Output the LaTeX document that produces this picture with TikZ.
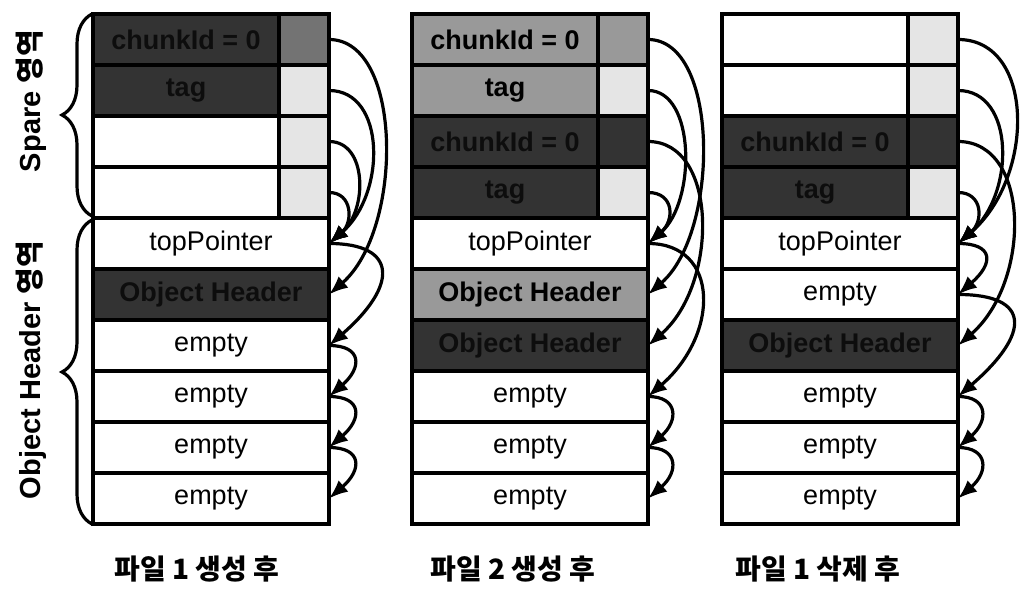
\documentclass[tikz,border=0pt]{standalone}
\usepackage{fontspec}
\setmainfont{Liberation Sans}
\newfontfamily\kr{Noto Sans CJK KR}
\usetikzlibrary{arrows.meta,decorations.pathreplacing,calc}

\definecolor{darkfill}{gray}{0.2}
\definecolor{darktext}{gray}{0.05}
\definecolor{midfill}{gray}{0.6}
\definecolor{subfill}{gray}{0.45}
\definecolor{lightfill}{gray}{0.9}

\newcommand\cellfont{\fontsize{27}{30}\selectfont}
% curved pointer from the right edge of one cell to the right edge of another
\newcommand\link[3]{\draw[arr] (#1.east) .. controls +({1.33*#3},0) and +({1.33*#3},{-1.15*#3}) .. (#2.east);}

\begin{document}
\begin{tikzpicture}[x=1pt,y=-1pt,
  cell/.style={draw, line width=3.4pt, minimum width=236pt, minimum height=51pt,
    inner sep=0pt, outer sep=0pt, anchor=north west, font=\cellfont},
  shaded/.style={font=\cellfont\bfseries},
  subcell/.style={draw, line width=3.4pt, minimum width=50pt, minimum height=51pt,
    inner sep=0pt, outer sep=0pt, anchor=north east},
  lbl/.style={font=\cellfont\bfseries, inner sep=0pt},
  dk/.style={text=darktext},
  arr/.style={line width=3.2pt, -{Latex[length=19pt,width=15pt]}},
  brc/.style={decorate, decoration={brace, amplitude=30pt}, line width=3.2pt},
  side/.style={font=\fontsize{29}{32}\selectfont\bfseries, inner sep=0pt, rotate=90},
  captext/.style={font=\kr\bfseries\fontsize{28}{32}\selectfont, inner sep=0pt}]
\useasboundingbox (0,0) rectangle (1022,593);

% ---------- column 1 ----------
\node[cell, fill=darkfill] (a1) at (93,14) {};
\node[subcell, fill=subfill] (a1s) at (a1.north east) {};
\node[lbl, dk] (a1t) at ($(a1.west)!0.5!(a1s.west)$) {chunkId = 0};
\node[cell, fill=darkfill] (a2) at (93,65) {};
\node[subcell, fill=lightfill] (a2s) at (a2.north east) {};
\node[lbl, dk] (a2t) at ($(a2.west)!0.5!(a2s.west)$) {tag};
\node[cell] (a3) at (93,116) {};
\node[subcell, fill=lightfill] (a3s) at (a3.north east) {};
\node[cell] (a4) at (93,167) {};
\node[subcell, fill=lightfill] (a4s) at (a4.north east) {};
\node[cell] (a5) at (93,218) {topPointer};
\node[cell, shaded, dk, fill=darkfill] (a6) at (93,269) {Object Header};
\node[cell] (a7) at (93,320) {empty};
\node[cell] (a8) at (93,371) {empty};
\node[cell] (a9) at (93,422) {empty};
\node[cell] (a10) at (93,473) {empty};

\link{a1}{a6}{56}
\link{a2}{a5}{43}
\link{a3}{a5}{29}
\link{a4}{a5}{18}
\link{a5}{a7}{52}
\link{a7}{a8}{25}
\link{a8}{a9}{25}
\link{a9}{a10}{25}

% ---------- column 2 ----------
\node[cell, fill=midfill] (b1) at (412,14) {};
\node[subcell, fill=midfill] (b1s) at (b1.north east) {};
\node[lbl] (b1t) at ($(b1.west)!0.5!(b1s.west)$) {chunkId = 0};
\node[cell, fill=midfill] (b2) at (412,65) {};
\node[subcell, fill=lightfill] (b2s) at (b2.north east) {};
\node[lbl] (b2t) at ($(b2.west)!0.5!(b2s.west)$) {tag};
\node[cell, fill=darkfill] (b3) at (412,116) {};
\node[subcell, fill=darkfill] (b3s) at (b3.north east) {};
\node[lbl, dk] (b3t) at ($(b3.west)!0.5!(b3s.west)$) {chunkId = 0};
\node[cell, fill=darkfill] (b4) at (412,167) {};
\node[subcell, fill=lightfill] (b4s) at (b4.north east) {};
\node[lbl, dk] (b4t) at ($(b4.west)!0.5!(b4s.west)$) {tag};
\node[cell] (b5) at (412,218) {topPointer};
\node[cell, shaded, fill=midfill] (b6) at (412,269) {Object Header};
\node[cell, shaded, dk, fill=darkfill] (b7) at (412,320) {Object Header};
\node[cell] (b8) at (412,371) {empty};
\node[cell] (b9) at (412,422) {empty};
\node[cell] (b10) at (412,473) {empty};

\link{b1}{b6}{54}
\link{b2}{b5}{36}
\link{b3}{b7}{53}
\link{b4}{b5}{20}
\link{b5}{b8}{54}
\link{b8}{b9}{23}
\link{b9}{b10}{23}

% ---------- column 3 ----------
\node[cell] (c1) at (722,14) {};
\node[subcell, fill=lightfill] (c1s) at (c1.north east) {};
\node[cell] (c2) at (722,65) {};
\node[subcell, fill=lightfill] (c2s) at (c2.north east) {};
\node[cell, fill=darkfill] (c3) at (722,116) {};
\node[subcell, fill=darkfill] (c3s) at (c3.north east) {};
\node[lbl, dk] (c3t) at ($(c3.west)!0.5!(c3s.west)$) {chunkId = 0};
\node[cell, fill=darkfill] (c4) at (722,167) {};
\node[subcell, fill=lightfill] (c4s) at (c4.north east) {};
\node[lbl, dk] (c4t) at ($(c4.west)!0.5!(c4s.west)$) {tag};
\node[cell] (c5) at (722,218) {topPointer};
\node[cell] (c6) at (722,269) {empty};
\node[cell, shaded, dk, fill=darkfill] (c7) at (722,320) {Object Header};
\node[cell] (c8) at (722,371) {empty};
\node[cell] (c9) at (722,422) {empty};
\node[cell] (c10) at (722,473) {empty};

\link{c1}{c5}{58}
\link{c2}{c5}{43}
\link{c3}{c7}{55}
\link{c4}{c5}{19}
\link{c5}{c6}{27}
\link{c6}{c8}{55}
\link{c8}{c9}{23}
\link{c9}{c10}{23}

% ---------- region braces and labels ----------
\draw[brc] (92,216) -- (92,14);
\draw[brc] (92,524) -- (92,220);
\node[side] (spare) at (31,101) {Spare {\kr 영역}};
\node[side] (ohdr) at (31,370) {Object Header {\kr 영역}};

% ---------- captions ----------
\node[captext] (cap1) at (197,569) {파일 1 생성 후};
\node[captext] (cap2) at (513,569) {파일 2 생성 후};
\node[captext] (cap3) at (818,569) {파일 1 삭제 후};
\end{tikzpicture}
\end{document}
